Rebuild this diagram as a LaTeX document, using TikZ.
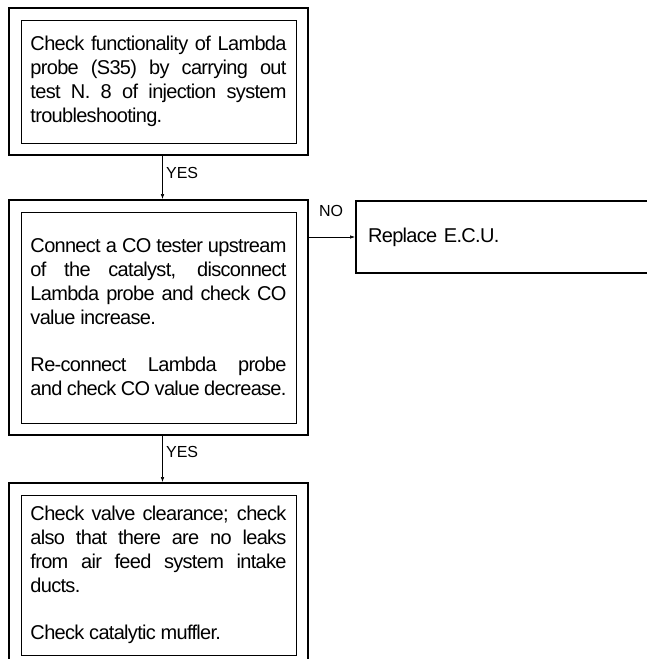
\documentclass[tikz,border=0pt]{standalone}
\usepackage{fontspec}
\setmainfont{Liberation Sans}
\newfontfamily\tightfont[LetterSpace=-3.5]{Liberation Sans}
\usetikzlibrary{fit,arrows.meta}
\setlength{\parindent}{0pt}

\tikzset{
  inner box/.style={draw, line width=0.6pt, text width=256pt, inner xsep=9.5pt,
    align=justify, font=\tightfont\fontsize{20}{24}\selectfont},
  outer box/.style={draw, line width=2.2pt, inner sep=11.5pt},
  single box/.style={draw, line width=2.2pt, text width=296pt, inner xsep=12pt,
    align=left, font=\tightfont\fontsize{20}{24}\selectfont},
  link/.style={->, line width=0.6pt},
  answer/.style={font=\fontsize{16}{18}\selectfont}
}

\begin{document}
\begin{tikzpicture}[x=1pt,y=-1pt,>={Latex[length=5pt,width=3.5pt]}]
  \useasboundingbox (0,0) rectangle (647,659);
  \clip (0,0) rectangle (647,659);

  % probe test
  \node[inner box, minimum height=123] (t1) at (158.5,81.5)
    {Check functionality of Lambda\linebreak probe (S35) by carrying out\linebreak test N. 8 of injection system\linebreak troubleshooting.};
  \node[outer box, fit=(t1)] (b1) {};

  % CO check
  \node[inner box, minimum height=211] (t2) at (158.5,317.5)
    {Connect a CO tester upstream\linebreak of the catalyst, disconnect\linebreak Lambda probe and check CO\linebreak value increase.\par\vspace{23pt}
     Re-connect Lambda probe\linebreak and check CO value decrease.};
  \node[outer box, fit=(t2)] (b2) {};

  % valves and muffler
  \node[inner box, minimum height=160] (t3) at (158.5,575)
    {Check valve clearance; check\linebreak also that there are no leaks\linebreak from air feed system intake\linebreak ducts.\par\vspace{23pt}
     Check catalytic muffler.};
  \node[outer box, fit=(t3)] (b3) {};

  % ecu
  \node[single box, anchor=west, minimum height=72] (b4) at (355,237) {Replace E.C.U.};

  \draw[link] ([xshift=4pt]b1.south) -- node[answer, right, pos=0.4] {YES} ([xshift=4pt]b2.north);
  \draw[link] ([xshift=4pt]b2.south) -- node[answer, right, pos=0.35] {YES} ([xshift=4pt]b3.north);
  \draw[link] (b2.east |- b4.west) -- node[answer, above=17pt, pos=0.48] {NO} (b4.west);
\end{tikzpicture}
\end{document}
